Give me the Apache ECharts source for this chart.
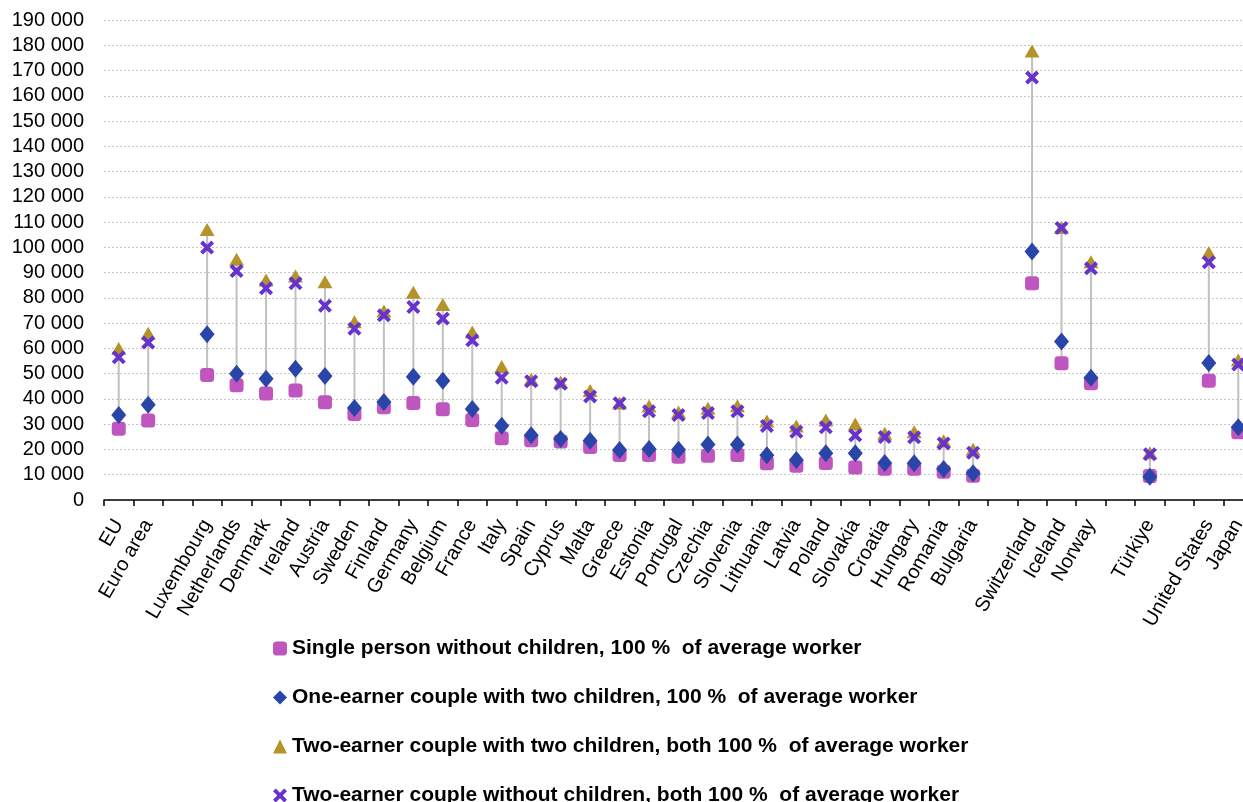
<!DOCTYPE html>
<html>
<head>
<meta charset="utf-8">
<script src="https://cdn.jsdelivr.net/npm/echarts@6/dist/echarts.min.js"></script>
<style>
    html, body { margin: 0; padding: 0; overflow: hidden; background: #fff; }
    #chart { width: 1253px; height: 850px; }
</style>
</head>
<body>
<div id="chart"></div>
<script>
// categories, '' = empty slot between country groups
var categories = ['EU', 'Euro area', '', 'Luxembourg', 'Netherlands', 'Denmark', 'Ireland', 'Austria', 'Sweden', 'Finland',
    'Germany', 'Belgium', 'France', 'Italy', 'Spain', 'Cyprus', 'Malta', 'Greece', 'Estonia', 'Portugal', 'Czechia',
    'Slovenia', 'Lithuania', 'Latvia', 'Poland', 'Slovakia', 'Croatia', 'Hungary', 'Romania', 'Bulgaria', '',
    'Switzerland', 'Iceland', 'Norway', '', 'Türkiye', '', 'United States', 'Japan'];

var singleNoKids = [28200, 31500, null, 49500, 45400, 42200, 43300, 38700, 34000, 36700, 38400, 35900, 31700,
    24400, 23700, 23200, 21000, 17800, 17800, 17100, 17500, 17800, 14500, 13600, 14600, 12900, 12400, 12400,
    11200, 9600, null, 85800, 54100, 46200, null, 9500, null, 47200, 26800];

var oneEarnerKids = [33600, 37700, null, 65600, 50000, 48000, 52000, 49100, 36400, 38800, 48800, 47200, 36000,
    29400, 25600, 24100, 23500, 19800, 20200, 19900, 22000, 22000, 17700, 15800, 18500, 18500, 14600, 14500,
    12300, 10600, null, 98400, 62700, 48400, null, 9200, null, 54200, 28800];

var twoEarnerKids = [60000, 66000, null, 107100, 95300, 87100, 88700, 86400, 70600, 74800, 82200, 77400, 66500,
    52800, 47800, 46700, 43300, 38400, 37200, 34800, 36300, 37300, 31300, 29300, 31700, 30100, 26400, 27000,
    23500, 20100, null, 177700, 107900, 94300, null, 18700, null, 98000, 55400];

var twoEarnerNoKids = [56500, 62300, null, 99900, 90600, 83800, 85800, 76900, 67800, 73100, 76400, 71800, 63200,
    48400, 47000, 46000, 41000, 38300, 35100, 33600, 34400, 35100, 29300, 27000, 28800, 25600, 24900, 24800,
    22400, 18700, null, 167200, 107700, 91700, null, 18100, null, 94100, 53600];

var seriesNames = [
    'Single person without children, 100 %  of average worker',
    'One-earner couple with two children, 100 %  of average worker',
    'Two-earner couple with two children, both 100 %  of average worker',
    'Two-earner couple without children, both 100 %  of average worker'
];

var xSymbol = 'path://M2,0 L5,3 L8,0 L10,2 L7,5 L10,8 L8,10 L5,7 L2,10 L0,8 L3,5 L0,2 Z';

// grey range line from lowest to highest value per country
var rangeData = [];
categories.forEach(function(c, i) {
    var vals = [singleNoKids[i], oneEarnerKids[i], twoEarnerKids[i], twoEarnerNoKids[i]].filter(function(v) {
        return v !== null;
    });
    if (vals.length) {
        rangeData.push([i, Math.min.apply(null, vals), Math.max.apply(null, vals)]);
    }
});

var chart = echarts.init(document.getElementById('chart'));
var font = 'Liberation Sans, Arial, sans-serif';

chart.setOption({
    animation: false,
    grid: { left: 104, right: 0, top: 20, bottom: 350 },
    legend: {
        orient: 'vertical',
        left: 268,
        top: 633,
        itemWidth: 14,
        itemHeight: 14,
        itemGap: 28,
        data: seriesNames,
        textStyle: { fontFamily: font, fontSize: 21, lineHeight: 21, fontWeight: 'bold', color: '#000' }
    },
    xAxis: {
        type: 'category',
        data: categories,
        boundaryGap: true,
        axisLine: { lineStyle: { color: '#000', width: 1.5 } },
        axisTick: { show: true, interval: 0, length: 6, lineStyle: { color: '#000', width: 1.5 } },
        axisLabel: { interval: 0, rotate: 60, margin: 21, fontFamily: font, fontSize: 20, color: '#000' }
    },
    yAxis: {
        type: 'value',
        min: 0,
        max: 190000,
        interval: 10000,
        axisLine: { show: false },
        axisTick: { show: false },
        splitLine: { lineStyle: { color: '#c4c4c4', type: [2, 2], width: 1 } },
        axisLabel: {
            margin: 20,
            fontFamily: font,
            fontSize: 20,
            color: '#000',
            formatter: function(v) {
                return String(v).replace(/\B(?=(\d{3})+(?!\d))/g, ' ');
            }
        }
    },
    series: [{
        type: 'custom',
        silent: true,
        data: rangeData,
        renderItem: function(params, api) {
            var p1 = api.coord([api.value(0), api.value(1)]);
            var p2 = api.coord([api.value(0), api.value(2)]);
            return {
                type: 'line',
                shape: { x1: p1[0], y1: p1[1], x2: p2[0], y2: p2[1] },
                style: { stroke: '#c0c0c0', lineWidth: 2 }
            };
        }
    }, {
        name: seriesNames[0],
        type: 'scatter',
        symbol: 'roundRect',
        symbolSize: 14,
        itemStyle: { color: '#bf55bf', opacity: 1 },
        data: singleNoKids
    }, {
        name: seriesNames[1],
        type: 'scatter',
        symbol: 'diamond',
        symbolSize: [15, 18],
        itemStyle: { color: '#2a45a8', opacity: 1 },
        data: oneEarnerKids
    }, {
        name: seriesNames[2],
        type: 'scatter',
        symbol: 'triangle',
        symbolSize: [15, 13],
        itemStyle: { color: '#b5922a', opacity: 1 },
        data: twoEarnerKids
    }, {
        name: seriesNames[3],
        type: 'scatter',
        symbol: xSymbol,
        symbolSize: 14,
        itemStyle: { color: '#6633cc', opacity: 1 },
        data: twoEarnerNoKids
    }]
});
</script>
</body>
</html>
